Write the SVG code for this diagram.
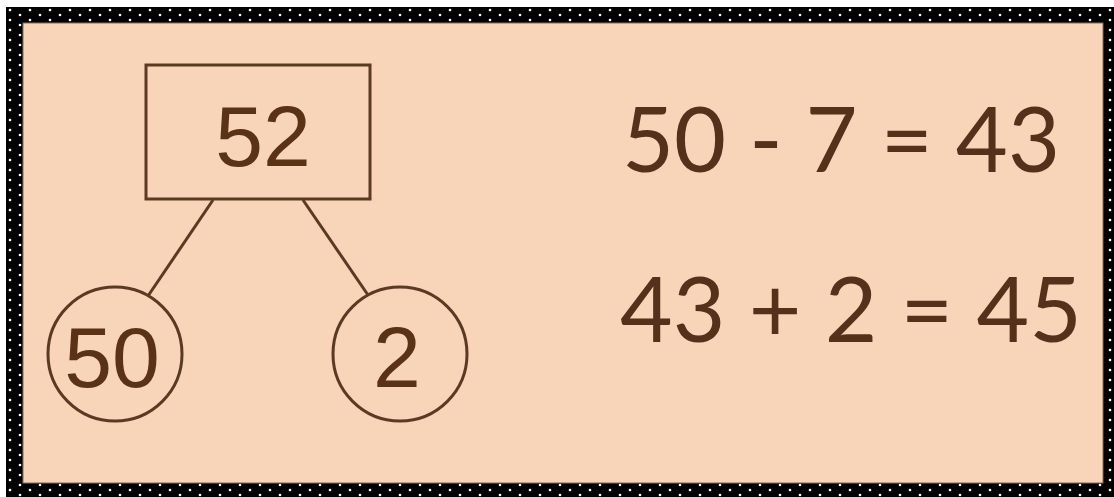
<svg xmlns="http://www.w3.org/2000/svg" width="1114" height="497" viewBox="0 0 1114 497">
  <defs>
    <pattern id="dots" x="0" y="0" width="20" height="10" patternUnits="userSpaceOnUse">
      <rect width="20" height="10" fill="#000"/>
      <circle cx="10" cy="0" r="1.3" fill="#fff"/>
      <circle cx="10" cy="10" r="1.3" fill="#fff"/>
      <circle cx="0" cy="5" r="1.3" fill="#fff"/>
      <circle cx="20" cy="5" r="1.3" fill="#fff"/>
    </pattern>
    <style>
      .shape { fill: none; stroke: #5a3a22; stroke-width: 3; }
      .num { font-family: "Liberation Sans", Arial, sans-serif; font-size: 86px; fill: #5a3216; text-anchor: middle; }
      .eq { font-family: Lato, "Open Sans", sans-serif; font-size: 92px; fill: #55301a; }
      .conn { stroke: #5a3a22; stroke-width: 3; fill: none; }
    </style>
  </defs>
  <rect x="0" y="0" width="1114" height="497" fill="#fff"/>
  <rect x="6" y="7" width="1108" height="490" fill="url(#dots)"/>
  <rect x="23" y="23" width="1080" height="460" fill="#f8d4b9" stroke="#8a6a58" stroke-width="1"/>

  <g id="connectors">
    <line class="conn" x1="213" y1="200" x2="148" y2="296"/>
    <line class="conn" x1="303" y1="200" x2="368" y2="295"/>
  </g>

  <g id="node-52">
    <rect class="shape" x="146" y="65" width="224" height="134"/>
    <text class="num" x="263" y="166">52</text>
  </g>
  <g id="node-50">
    <circle class="shape" cx="115" cy="354" r="67"/>
    <text class="num" x="112" y="387">50</text>
  </g>
  <g id="node-2">
    <circle class="shape" cx="400" cy="354" r="67"/>
    <text class="num" x="397" y="387">2</text>
  </g>

  <g id="equations">
    <text class="eq" x="622" y="172" textLength="438" lengthAdjust="spacingAndGlyphs">50 - 7 = 43</text>
    <text class="eq" x="620" y="342" textLength="462" lengthAdjust="spacingAndGlyphs">43 + 2 = 45</text>
  </g>
</svg>
